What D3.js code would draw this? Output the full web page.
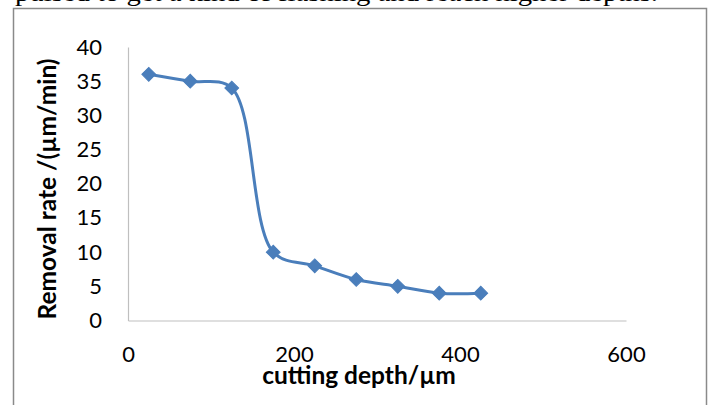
<!DOCTYPE html>
<html>
<head>
<meta charset="utf-8">
<script src="https://cdn.jsdelivr.net/npm/d3@7"></script>
<style>
  html, body { margin: 0; padding: 0; background: #fff; }
  svg { display: block; }
</style>
</head>
<body>
<script>
// ---- data ----
const depths = [25, 75, 125, 175, 225, 275, 325, 375, 425];
const rates = [36, 35, 34, 10, 8, 6, 5, 4, 4];
const xTicks = [0, 200, 400, 600];
const yTicks = [0, 5, 10, 15, 20, 25, 30, 35, 40];
const xTitle = "cutting depth/µm";
const yTitle = "Removal rate /(µm/min)";
const topText = "pulsed to get a kind of flashing and reach higher depths.";

const W = 711, H = 405;
const svg = d3.select("body").append("svg").attr("width", W).attr("height", H);

// text above the figure (cut off at the top)
svg.append("text")
  .attr("x", 15).attr("y", 0.5)
  .attr("font-family", "Liberation Serif, Times New Roman, serif")
  .attr("font-size", 25)
  .attr("textLength", 643)
  .attr("lengthAdjust", "spacingAndGlyphs")
  .attr("fill", "#000")
  .text(topText);

// figure frame
svg.append("rect")
  .attr("x", 13.5).attr("y", 8.5)
  .attr("width", 693).attr("height", 430)
  .attr("fill", "none")
  .attr("stroke", "#8a8a8a")
  .attr("stroke-width", 1.5);

const x = d3.scaleLinear().domain([0, 600]).range([128, 626]);
const y = d3.scaleLinear().domain([0, 40]).range([320.5, 47]);

const tickFont = "Lato, 'Open Sans', sans-serif";

// x axis
const gx = svg.append("g").attr("transform", `translate(0,${y(0)})`)
  .call(d3.axisBottom(x).tickValues(xTicks).tickSize(0).tickPadding(26).tickFormat(d3.format("d")));
gx.select(".domain").attr("stroke", "#bfbfbf").attr("stroke-width", 1.2);
gx.selectAll("text").attr("font-family", tickFont).attr("font-size", 22).attr("fill", "#000");

// y axis
const gy = svg.append("g").attr("transform", `translate(${x(0)},0)`)
  .call(d3.axisLeft(y).tickValues(yTicks).tickSize(0).tickPadding(26).tickFormat(d3.format("d")));
gy.select(".domain").attr("stroke", "#bfbfbf").attr("stroke-width", 1.2);
gy.selectAll("text").attr("font-family", tickFont).attr("font-size", 22).attr("fill", "#000");

// axis titles
svg.append("text")
  .attr("x", 359).attr("y", 384)
  .attr("text-anchor", "middle")
  .attr("font-family", tickFont).attr("font-weight", "bold").attr("font-size", 24.5)
  .attr("fill", "#000")
  .text(xTitle);

svg.append("text")
  .attr("transform", `translate(56,189) rotate(-90)`)
  .attr("text-anchor", "middle")
  .attr("font-family", tickFont).attr("font-weight", "bold").attr("font-size", 24.5)
  .attr("fill", "#000")
  .text(yTitle);

// line
const pts = depths.map((d, i) => [d, rates[i]]);
const color = "#4a7ebb";
svg.append("path")
  .datum(pts)
  .attr("fill", "none")
  .attr("stroke", color)
  .attr("stroke-width", 3)
  .attr("d", d3.line().x(d => x(d[0])).y(d => y(d[1])).curve(d3.curveCatmullRom.alpha(0.5)));

// markers
svg.selectAll(".mk").data(pts).enter().append("path")
  .attr("class", "mk")
  .attr("transform", d => `translate(${x(d[0])},${y(d[1])}) rotate(45)`)
  .attr("d", d3.symbol().type(d3.symbolSquare).size(95))
  .attr("fill", color)
  .attr("stroke", color)
  .attr("stroke-width", 1);
</script>
</body>
</html>
